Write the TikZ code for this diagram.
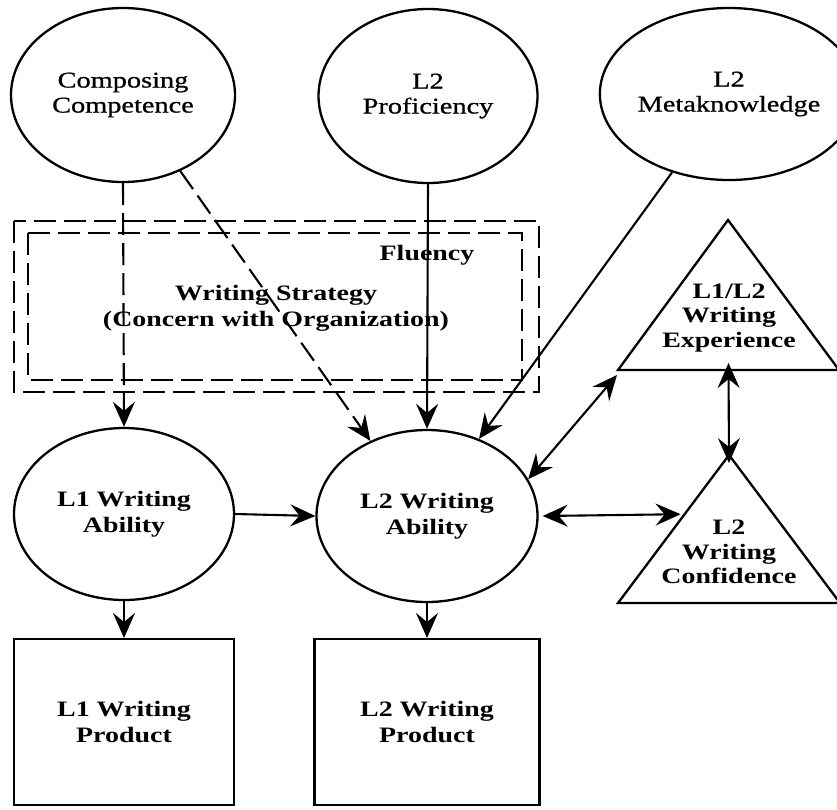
\documentclass[tikz,border=0pt]{standalone}
\usepackage{fontspec}
\usetikzlibrary{shapes.geometric,arrows.meta,calc}
\newfontfamily\lightserif[FakeStretch=1.26,FakeBold=0.8]{Liberation Serif}
\newfontfamily\boldserif[FakeStretch=1.27]{Liberation Serif Bold}

\tikzset{
  ink/.style={line width=2.3pt, draw=black},
  tip/.tip={Stealth[length=25pt,width=22pt,inset=9pt]},
  head/.style={-tip},
  twohead/.style={tip-tip},
  brokenline/.style={dash pattern=on 22pt off 8pt},
  oval/.style={ellipse, ink, inner sep=0pt, align=center},
  topoval/.style={oval, font=\lightserif\fontsize{22.5}{25}\selectfont},
  midoval/.style={oval, font=\boldserif\fontsize{22}{26}\selectfont},
  plainlabel/.style={align=center, inner sep=0pt, font=\boldserif\fontsize{22}{26}\selectfont},
  link/.style={ink, line width=2.1pt, head},
}

\begin{document}
\begin{tikzpicture}[x=1pt, y=-1pt]
  \useasboundingbox (0,0) rectangle (837,809);

  % latent factors, top row
  \node[topoval, minimum width=224pt, minimum height=174pt] (comp) at (123,95) {Composing\\Competence};
  \node[topoval, minimum width=219pt, minimum height=174pt] (prof) at (428,96) {L2\\Proficiency};
  \node[topoval, minimum width=210pt, minimum height=172pt] (meta) at (729,94) {L2\\Metaknowledge};

  % strategy / fluency frames
  \draw[ink, brokenline] (14,221) rectangle (539,392);
  \draw[ink, brokenline] (28,233) rectangle (522,380);
  \node[plainlabel] (flu) at (427,255) {Fluency};
  \node[plainlabel] (strat) at (276,308) {Writing Strategy\\(Concern with Organization)};

  % writing abilities
  \node[midoval, minimum width=220pt, minimum height=172pt] (abl1) at (124,514) {L1 Writing\\Ability};
  \node[midoval, minimum width=221pt, minimum height=172pt] (abl2) at (427,516) {L2 Writing\\Ability};

  % products
  \node[plainlabel, draw, ink, minimum width=220pt, minimum height=166pt, anchor=north] (prd1) at (124,638) {L1 Writing\\Product};
  \node[plainlabel, draw, ink, minimum width=225pt, minimum height=166pt, anchor=north] (prd2) at (427,638) {L2 Writing\\Product};

  % triangles: experience and confidence
  \coordinate (expT) at (728,220);
  \coordinate (expL) at (618,370);
  \coordinate (expR) at (839,370);
  \draw[ink, line join=miter] (expT) -- (expL) -- (expR) -- cycle;
  \node[plainlabel, font=\boldserif\fontsize{22}{24.5}\selectfont] (exp) at (729,318) {L1/L2\\Writing\\Experience};

  \coordinate (conT) at (729,455);
  \coordinate (conL) at (618,603);
  \coordinate (conR) at (840,603);
  \draw[ink, line join=miter] (conT) -- (conL) -- (conR) -- cycle;
  \node[plainlabel, font=\boldserif\fontsize{22}{24.5}\selectfont] (con) at (729,552) {L2\\Writing\\Confidence};

  \coordinate (expB) at ($(expL)!0.5!(expR)$);
  \coordinate (conE) at ($(conT)!0.4!(conL)$);

  % paths
  \draw[link, brokenline] (comp.south) -- (abl1.north);
  \draw[link, brokenline] (comp.-53) -- (abl2.127);
  \draw[link] (prof.south) -- (abl2.north);
  \draw[link] (meta.234) -- (abl2.56);
  \draw[link] (abl1.east) -- (abl2.west);
  \draw[link] (abl1.south) -- (prd1.north);
  \draw[link] (abl2.south) -- (prd2.north);
  \draw[ink, line width=2.1pt, twohead] (abl2.20) -- ([shift={(-1,5)}]expL);
  \draw[ink, line width=2.1pt, twohead] ([xshift=4]abl2.east) -- ([xshift=-4]conE);
  \draw[ink, line width=2.1pt, twohead] ([yshift=7]expB) -- ([yshift=-8]conT);
\end{tikzpicture}
\end{document}
